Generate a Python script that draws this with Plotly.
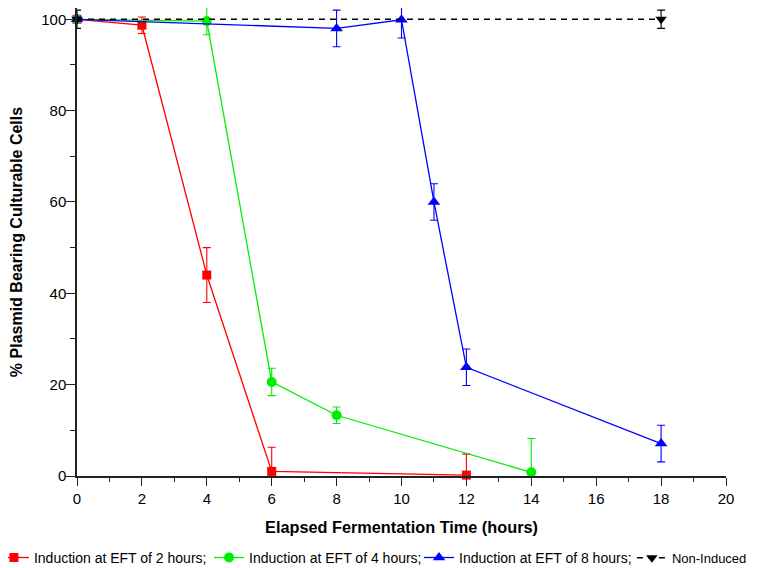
import plotly.graph_objects as go

# Data
red_x = [0, 2, 4, 6, 12]
red_y = [100, 98.7, 44, 1.0, 0.2]
red_err = [0.5, 1.8, 6, 5.3, 4.6]

green_x = [0, 4, 6, 8, 14]
green_y = [100, 99.6, 20.6, 13.3, 0.8]
green_err = [0.5, 3, 3, 1.8, 7.4]

blue_x = [0, 8, 10, 11, 12, 18]
blue_y = [100, 98, 99.9, 60, 23.8, 7.1]
blue_err = [0.5, 4, 4, 4, 4, 4]

black_x = [0, 18]
black_y = [100, 100]
black_err = [2, 2]

induction_x = [2, 4, 8]
induction_colors = ["#ff0000", "#00ee00", "#0000ff"]

names = ["Induction at EFT of 2 hours;", "Induction at EFT of 4 hours;",
         "Induction at EFT of 8 hours;", "Non-Induced"]

fig = go.Figure()

def add(x, y, err, color, symbol, name, size, legend, dash="solid", lw=1.3):
    fig.add_trace(go.Scatter(
        x=x, y=y, name=name, mode="lines+markers", legend=legend,
        line=dict(color=color, width=lw, dash=dash),
        marker=dict(color=color, symbol=symbol, size=size),
        error_y=dict(type="data", array=err, visible=True, color=color,
                     thickness=1.1, width=4),
        cliponaxis=False,
    ))

add(red_x, red_y, red_err, "#ff0000", "square", names[0], 9, "legend")
add(green_x, green_y, green_err, "#00ee00", "circle", names[1], 10, "legend2")
add(blue_x, blue_y, blue_err, "#0000ff", "triangle-up", names[2], 11, "legend3")
add(black_x, black_y, black_err, "#000000", "triangle-down", names[3], 10,
    "legend4", dash="6px,5px", lw=1.5)

for xv, c in zip(induction_x, induction_colors):
    fig.add_annotation(x=xv, y=102.7, xref="x", yref="y", text="",
                       showarrow=True, arrowhead=2, arrowsize=1.2,
                       arrowwidth=1.5, arrowcolor=c, ax=0, ay=-25,
                       standoff=0)

leg_common = dict(orientation="h", xanchor="left", y=-0.175, yanchor="middle",
                  itemwidth=30, bgcolor="rgba(0,0,0,0)")

fig.update_layout(
    width=750, height=560,
    margin=dict(l=69, r=32, t=0, b=92, autoexpand=False),
    plot_bgcolor="white", paper_bgcolor="white",
    font=dict(family="Liberation Sans, Arial, sans-serif", size=15, color="#000"),
    xaxis=dict(range=[0, 20], tickmode="linear", tick0=0, dtick=2,
               ticks="outside", ticklen=8, tickwidth=1.3, tickcolor="#222",
               showline=True, linecolor="#222", linewidth=1.5,
               showgrid=False, zeroline=False, automargin=False,
               minor=dict(dtick=1, ticks="outside", ticklen=4, tickwidth=1.3,
                          tickcolor="#222", showgrid=False),
               title=dict(text="<b>Elapsed Fermentation Time (hours)</b>",
                          font=dict(size=16.3), standoff=16)),
    yaxis=dict(range=[0, 102.47], tickmode="linear", tick0=0, dtick=20,
               ticks="outside", ticklen=9, tickwidth=1.3, tickcolor="#222",
               showline=True, linecolor="#222", linewidth=1.5,
               showgrid=False, zeroline=False, automargin=False,
               ticklabelstandoff=-3,
               minor=dict(dtick=10, ticks="outside", ticklen=5, tickwidth=1.3,
                          tickcolor="#222", showgrid=False),
               title=dict(text="<b>% Plasmid Bearing Culturable Cells</b>",
                          font=dict(size=16), standoff=17)),
    showlegend=True,
    legend=dict(x=-0.128, font=dict(size=14), **leg_common),
    legend2=dict(x=0.2034, font=dict(size=14), **leg_common),
    legend3=dict(x=0.527, font=dict(size=14), **leg_common),
    legend4=dict(x=0.855, font=dict(size=13), **leg_common),
)

fig.write_html("out.html")
